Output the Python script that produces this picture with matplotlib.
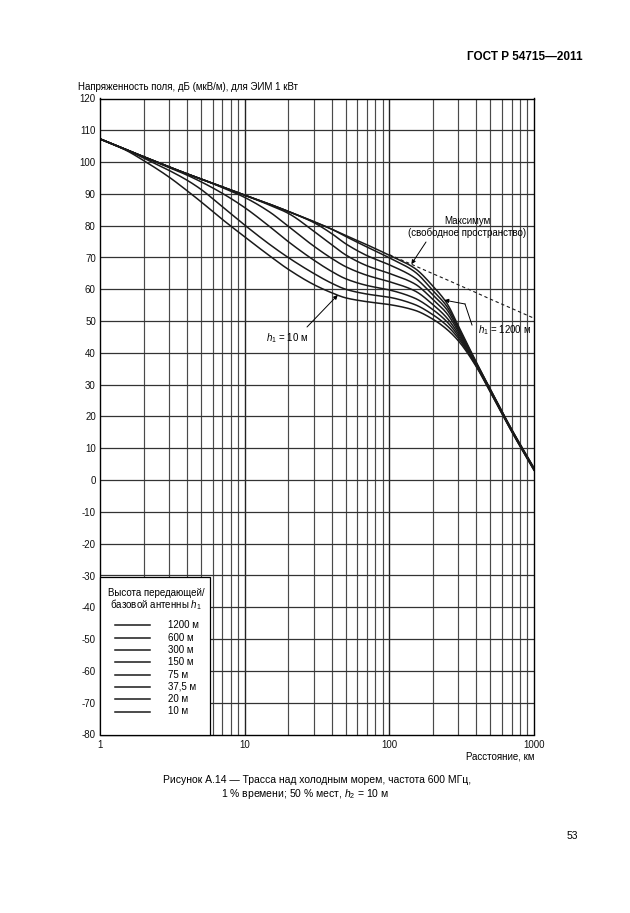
import matplotlib
matplotlib.use("Agg")
import numpy as np
import matplotlib.pyplot as plt
from matplotlib.lines import Line2D
from matplotlib.patches import Rectangle

plt.rcParams['font.family'] = ['Liberation Sans', 'DejaVu Sans']
plt.rcParams['mathtext.fontset'] = 'custom'
plt.rcParams['mathtext.it'] = 'Liberation Sans:italic'
plt.rcParams['mathtext.rm'] = 'Liberation Sans'

# ---------------- data ----------------
distance_km = [1, 1.5, 2, 3, 4, 5, 7, 10, 15, 20, 30, 40, 50, 70, 100,
               150, 200, 250, 300, 400, 500, 700, 1000]

e_max = [107.3, 104.0, 101.7, 98.5, 96.3, 94.7, 92.2, 89.6, 86.7, 84.5, 81.3, 78.9,
         76.9, 74.0, 70.9, 67.4, 64.9, 63.0, 61.4, 58.9, 56.9, 54.0, 50.9]

h1200 = [107.3, 104.0, 101.7, 98.5, 96.3, 94.7, 92.2, 89.6, 86.7, 84.5, 81.3, 78.9,
         76.9, 74.0, 70.7, 66.6, 61.0, 55.6, 48.5, 37.0, 28.5, 16.0, 3.8]
h600 = [107.3, 104.0, 101.7, 98.5, 96.3, 94.7, 92.2, 89.6, 86.7, 84.5, 81.3, 78.9,
        76.6, 73.3, 69.9, 65.5, 59.6, 54.6, 47.9, 36.8, 28.4, 15.9, 3.7]
h300 = [107.3, 104.0, 101.7, 98.5, 96.3, 94.7, 92.2, 89.6, 86.7, 84.5, 81.0, 77.5,
        74.3, 70.6, 67.7, 63.6, 58.2, 53.6, 47.3, 36.6, 28.3, 15.8, 3.6]
h150 = [107.3, 104.0, 101.7, 98.5, 96.3, 94.7, 92.2, 89.6, 86.4, 83.9, 78.3, 74.0,
        70.8, 67.4, 65.0, 61.7, 56.8, 52.4, 46.7, 36.4, 28.1, 15.7, 3.5]
h75 = [107.3, 104.0, 101.7, 98.5, 96.3, 94.7, 92.0, 88.9, 84.2, 79.8, 73.6, 69.7,
       67.1, 64.4, 62.4, 59.5, 55.2, 51.0, 46.0, 36.2, 28.0, 15.6, 3.4]
h37_5 = [107.3, 104.0, 101.6, 98.3, 95.9, 93.8, 90.2, 85.7, 79.6, 75.0, 69.2, 65.6,
         63.3, 61.2, 59.8, 57.2, 53.6, 49.8, 45.3, 36.0, 27.9, 15.5, 3.3]
h20 = [107.3, 104.0, 101.3, 97.4, 94.3, 91.4, 86.0, 80.2, 74.0, 70.0, 65.0, 61.9,
       60.0, 58.5, 57.5, 55.2, 52.0, 48.6, 44.6, 35.8, 27.8, 15.4, 3.2]
h10 = [107.2, 103.8, 100.5, 95.3, 91.0, 87.5, 82.0, 76.5, 70.4, 66.3, 61.5, 58.9,
       57.3, 56.1, 55.2, 53.4, 50.6, 47.4, 43.8, 35.6, 27.6, 15.3, 3.1]

curves = [h1200, h600, h300, h150, h75, h37_5, h20, h10]
legend_labels = ['1200 м', '600 м', '300 м', '150 м', '75 м', '37,5 м', '20 м', '10 м']

x_ticks = [1, 10, 100, 1000]
x_tick_labels = ['1', '10', '100', '1000']
y_ticks = list(range(-80, 121, 10))
y_tick_labels = [str(v) for v in y_ticks]

dashed_from_km = 100


def smooth_path(xs, ys, n=600):
    """Monotone cubic (Fritsch-Carlson) drawing path through the read points,
    in log10(distance) space - only for a smooth rendering of the line."""
    u = np.log10(np.asarray(xs, float))
    y = np.asarray(ys, float)
    h = np.diff(u)
    delta = np.diff(y) / h
    m = np.empty_like(y)
    m[0], m[-1] = delta[0], delta[-1]
    for i in range(1, len(y) - 1):
        if delta[i - 1] * delta[i] <= 0:
            m[i] = 0.0
        else:
            w1 = 2 * h[i] + h[i - 1]
            w2 = h[i] + 2 * h[i - 1]
            m[i] = (w1 + w2) / (w1 / delta[i - 1] + w2 / delta[i])
    uu = np.linspace(u[0], u[-1], n)
    idx = np.clip(np.searchsorted(u, uu) - 1, 0, len(h) - 1)
    t = (uu - u[idx]) / h[idx]
    h00 = 2 * t ** 3 - 3 * t ** 2 + 1
    h10 = t ** 3 - 2 * t ** 2 + t
    h01 = -2 * t ** 3 + 3 * t ** 2
    h11 = t ** 3 - t ** 2
    yy = (h00 * y[idx] + h10 * h[idx] * m[idx] + h01 * y[idx + 1]
          + h11 * h[idx] * m[idx + 1])
    return 10 ** uu, yy


# ---------------- figure ----------------
W, H = 630, 913
fig = plt.figure(figsize=(W / 100, H / 100), dpi=100)
fig.patch.set_facecolor('white')


def fp(x, y):
    return (x / W, 1 - y / H)


ax_l, ax_r, ax_t, ax_b = 100, 534, 98.5, 734.5
ax = fig.add_axes([ax_l / W, 1 - ax_b / H, (ax_r - ax_l) / W, (ax_b - ax_t) / H])
ax.set_xscale('log')
ax.set_xlim(1, 1000)
ax.set_ylim(-80, 120)

# grid
for dec in [1, 10, 100]:
    for m in range(1, 10):
        v = dec * m
        if v <= 1 or v >= 1000:
            continue
        major = (m == 1)
        ax.axvline(v, color='#222222' if major else '#4a4a4a',
                   lw=1.0 if major else 0.85, zorder=1)
for v in y_ticks[1:-1]:
    ax.axhline(v, color='#333333', lw=0.9, zorder=1)

for s in ax.spines.values():
    s.set_linewidth(1.0)
    s.set_color('black')
    s.set_zorder(5)

ax.set_xticks(x_ticks)
ax.set_xticklabels(x_tick_labels)
ax.set_xticks([], minor=True)
ax.set_yticks(y_ticks)
ax.set_yticklabels(y_tick_labels)
ax.tick_params(axis='both', length=0, labelsize=7, colors='#111111')
ax.tick_params(axis='y', pad=3)
ax.tick_params(axis='x', pad=4)

# curves
for c in curves:
    sx, sy = smooth_path(distance_km, c)
    ax.plot(sx, sy, color='#1a1a1a', lw=1.1, zorder=3)

dx = [d for d in distance_km if d >= dashed_from_km]
dy = [e for d, e in zip(distance_km, e_max) if d >= dashed_from_km]
ax.plot(dx, dy, color='#1a1a1a', lw=0.8, ls=(0, (3, 2.5)), zorder=3)

# legend box
lb = Rectangle(fp(100, 735), (210 - 100) / W, (735 - 577) / H,
               transform=fig.transFigure, facecolor='white', edgecolor='black',
               lw=0.9, zorder=4)
fig.add_artist(lb)
fig.text(*fp(156, 593), 'Высота передающей/', ha='center', va='center', fontsize=7,
         zorder=6)
fig.text(*fp(156, 605), 'базовой антенны $h_1$', ha='center', va='center', fontsize=7,
         zorder=6)
ys = [625, 637.5, 650, 662.3, 674.5, 686.7, 699, 711.5]
for y, lab in zip(ys, legend_labels):
    fig.add_artist(Line2D([115 / W, 149.5 / W], [1 - y / H, 1 - y / H],
                          transform=fig.transFigure, color='#1a1a1a', lw=1.1, zorder=6))
    fig.text(*fp(167.5, y), lab, ha='left', va='center', fontsize=7, zorder=6)

# texts
fig.text(*fp(583, 57), 'ГОСТ Р 54715—2011', ha='right', va='center', fontsize=8.5,
         fontweight='bold')
fig.text(*fp(78, 87), 'Напряженность поля, дБ (мкВ/м), для ЭИМ 1 кВт', ha='left',
         va='center', fontsize=7)
fig.text(*fp(534, 756), 'Расстояние, км', ha='right', va='center', fontsize=7)
fig.text(*fp(317, 780), 'Рисунок А.14 — Трасса над холодным морем, частота 600 МГц,',
         ha='center', va='center', fontsize=7.5)
fig.text(*fp(305, 794), '1 % времени; 50 % мест, $h_2$ = 10 м', ha='center',
         va='center', fontsize=7.5)
fig.text(*fp(578, 836), '53', ha='right', va='center', fontsize=7.5)

# annotations
fig.text(*fp(467, 221), 'Максимум', ha='center', va='center', fontsize=7)
fig.text(*fp(467, 232.5), '(свободное пространство)', ha='center', va='center',
         fontsize=7)
arrow = dict(arrowstyle='-|>', lw=0.7, color='black', mutation_scale=6,
             shrinkA=0, shrinkB=0)
ax.annotate('', xy=(142, 67.9), xycoords='data', xytext=fp(426, 242),
            textcoords='figure fraction', arrowprops=arrow, zorder=7)

fig.text(*fp(478, 330), '$h_1$ = 1200 м', ha='left', va='center', fontsize=7)
fig.add_artist(Line2D([472 / W, 465 / W], [1 - 325 / H, 1 - 304 / H],
                      transform=fig.transFigure, color='black', lw=0.7))
ax.annotate('', xy=(240, 56.6), xycoords='data', xytext=fp(465, 304),
            textcoords='figure fraction', arrowprops=arrow, zorder=7)

fig.text(*fp(266, 338), '$h_1$ = 10 м', ha='left', va='center', fontsize=7)
ax.annotate('', xy=(44, 58.2), xycoords='data', xytext=fp(307, 327),
            textcoords='figure fraction', arrowprops=arrow, zorder=7)

fig.savefig('out.png', dpi=100, facecolor='white')
